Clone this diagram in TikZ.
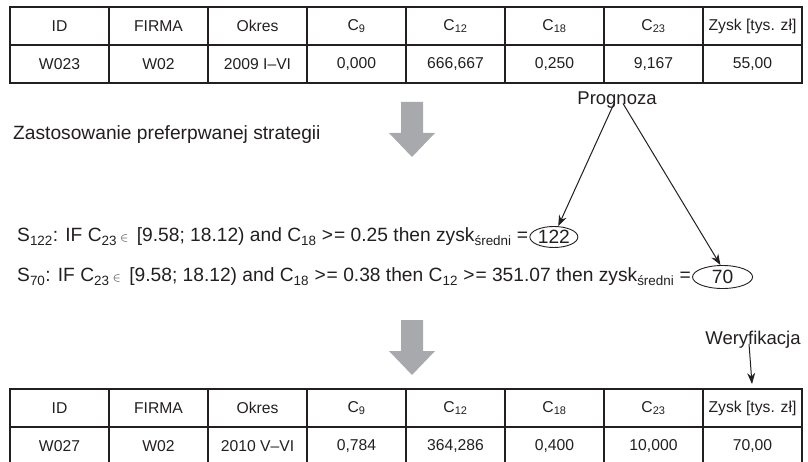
\documentclass[tikz,border=0pt]{standalone}
\usepackage{fontspec}
\setmainfont{Liberation Sans}
\usetikzlibrary{arrows.meta,shapes.geometric}
\definecolor{ink}{HTML}{231F20}
\definecolor{arrowgray}{HTML}{A7A9AC}
\tikzset{
  tbl/.style={draw=ink, line width=1.2pt},
  cell/.style={inner sep=0pt, text=ink, font=\fontsize{15.7}{18}\selectfont},
  txt/.style={inner sep=0pt, text=ink, font=\fontsize{19.2}{22}\selectfont},
  lbl/.style={inner sep=0pt, text=ink, font=\fontsize{18.5}{21}\selectfont},
  ell/.style={draw=ink, line width=0.9pt, ellipse, inner sep=0pt, text=ink, font=\fontsize{19.2}{22}\selectfont},
  arr/.style={draw=ink, line width=1pt, -{Stealth[length=11pt,width=8pt]}},
  bigarrow/.style={fill=arrowgray, draw=none}
}
\begin{document}
\begin{tikzpicture}[x=1pt,y=-1pt]
\useasboundingbox (0,0) rectangle (808,462);
\clip (0,0) rectangle (808,462);
% top table
\draw[tbl] (10,7) rectangle (802,83);
\draw[tbl] (10,45) -- (802,45);
\foreach \i in {1,...,7} \draw[tbl] ({10+99*\i},7) -- ({10+99*\i},83);
\foreach \t [count=\i] in {ID,FIRMA,Okres,C\textsubscript{9},C\textsubscript{12},C\textsubscript{18},C\textsubscript{23},Zysk [tys. zł]}
  \node[cell] (ha\i) at ({10+99*(\i-0.5)},26) {\t};
\foreach \t [count=\i] in {W023,W02,2009 I–VI,{0,000},{666,667},{0,250},{9,167},{55,00}}
  \node[cell] (da\i) at ({10+99*(\i-0.5)},64) {\t};
% first big arrow
\fill[bigarrow] (401,102) -- (423,102) -- (423,133) -- (435,133) -- (412,157) -- (389,133) -- (401,133) -- cycle;
% middle text
\node[txt, anchor=west] (zast) at (13,135) {Zastosowanie preferpwanej strategii};
\node[lbl] (prog) at (617,100) {Prognoza};
\node[txt, anchor=west] (s122) at (17,237) {S\textsubscript{122}: IF C\textsubscript{23}\,{\fontsize{13}{13}\selectfont$\in$}\, [9.58; 18.12) and C\textsubscript{18} >\kern1pt= 0.25 then zysk\textsubscript{średni} =};
\node[ell, anchor=west, minimum width=48pt, minimum height=21pt] (e122) at ([xshift=1pt]s122.east) {122};
\node[txt, anchor=west] (s70) at (17,277) {S\textsubscript{70}: IF C\textsubscript{23}\,{\fontsize{13}{13}\selectfont$\in$}\, [9.58; 18.12) and C\textsubscript{18} >\kern1pt= 0.38 then C\textsubscript{12} >\kern1pt= 351.07 then zysk\textsubscript{średni} =};
\node[ell, anchor=west, minimum width=60pt, minimum height=23pt] (e70) at ([xshift=1pt]s70.east) {70};
\draw[arr] ([xshift=-3pt,yshift=5pt]prog.south) -- (e122.68);
\draw[arr] ([xshift=6pt,yshift=5pt]prog.south) -- (e70.100);
% second big arrow
\fill[bigarrow] (401,320) -- (423,320) -- (423,351) -- (435,351) -- (412,375) -- (389,351) -- (401,351) -- cycle;
\node[lbl] (wer) at (753,340) {Weryfikacja};
\coordinate (wtip) at (752,384);
\draw[arr] ([xshift=-4pt,yshift=5pt]wer.south) -- (wtip);
% bottom table
\draw[tbl] (10,389) rectangle (802,465);
\draw[tbl] (10,427) -- (802,427);
\foreach \i in {1,...,7} \draw[tbl] ({10+99*\i},389) -- ({10+99*\i},465);
\foreach \t [count=\i] in {ID,FIRMA,Okres,C\textsubscript{9},C\textsubscript{12},C\textsubscript{18},C\textsubscript{23},Zysk [tys. zł]}
  \node[cell] (hb\i) at ({10+99*(\i-0.5)},408) {\t};
\foreach \t [count=\i] in {W027,W02,2010 V–VI,{0,784},{364,286},{0,400},{10,000},{70,00}}
  \node[cell] (db\i) at ({10+99*(\i-0.5)},446) {\t};
\end{tikzpicture}
\end{document}
